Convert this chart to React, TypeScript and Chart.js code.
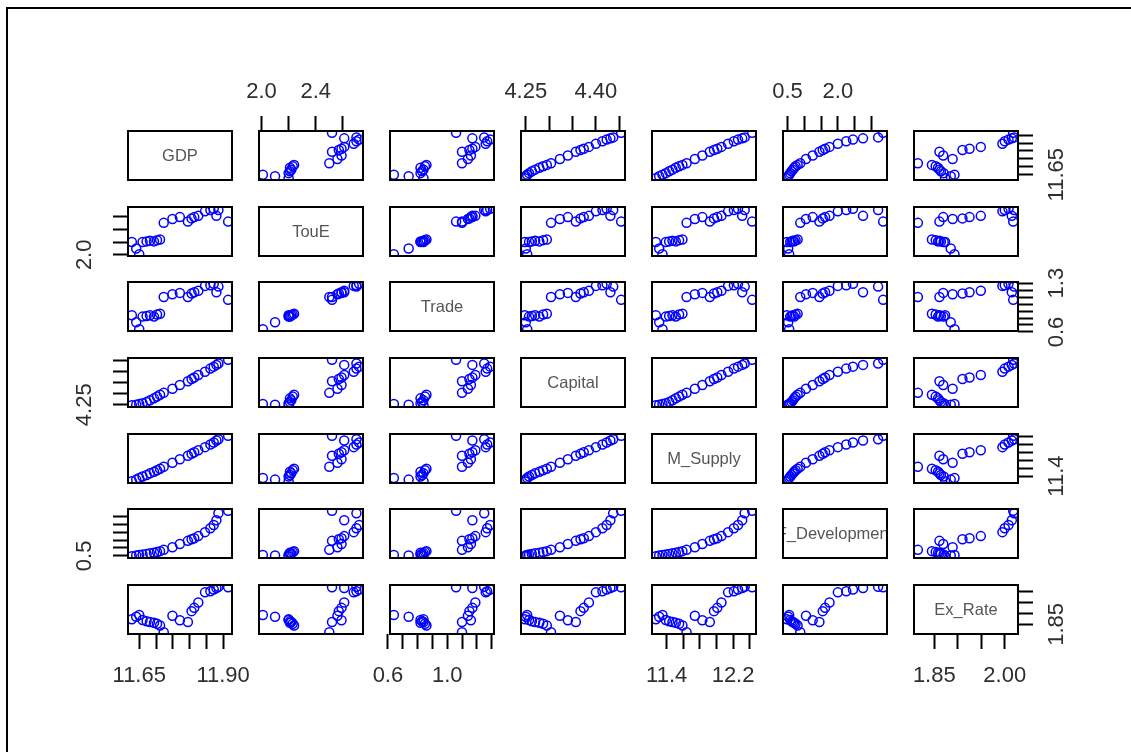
import React, { useEffect, useRef } from "react";
import { Chart, registerables } from "chart.js";

Chart.register(...registerables);

// ---------------- data ----------------
const VAR_NAMES = ["GDP", "TouE", "Trade", "Capital", "M_Supply", "F_Development", "Ex_Rate"];

const GDP = [11.628, 11.641, 11.65, 11.66, 11.672, 11.682, 11.694, 11.703, 11.712, 11.723, 11.749, 11.771, 11.795, 11.806, 11.814, 11.826, 11.846, 11.862, 11.872, 11.88, 11.886, 11.915];
const TOUE = [2.2, 2.1, 2.01, 2.2, 2.21, 2.22, 2.21, 2.23, 2.24, 2.5, 2.56, 2.59, 2.52, 2.57, 2.59, 2.61, 2.68, 2.7, 2.72, 2.61, 2.7, 2.52];
const TRADE = [0.84, 0.74, 0.64, 0.82, 0.83, 0.84, 0.82, 0.85, 0.86, 1.1, 1.14, 1.16, 1.1, 1.15, 1.17, 1.19, 1.26, 1.27, 1.29, 1.17, 1.25, 1.06];
const CAPITAL = [4.248, 4.25, 4.253, 4.257, 4.263, 4.27, 4.279, 4.287, 4.295, 4.304, 4.323, 4.34, 4.357, 4.367, 4.374, 4.385, 4.4, 4.414, 4.423, 4.431, 4.437, 4.454];
const M_SUPPLY = [11.27, 11.31, 11.35, 11.39, 11.43, 11.47, 11.51, 11.55, 11.59, 11.64, 11.74, 11.83, 11.92, 11.97, 12.01, 12.06, 12.14, 12.21, 12.26, 12.31, 12.34, 12.43];
const F_DEV = [0.48, 0.52, 0.55, 0.58, 0.62, 0.66, 0.7, 0.74, 0.8, 0.88, 1.05, 1.25, 1.45, 1.55, 1.62, 1.75, 2.0, 2.25, 2.45, 2.75, 3.2, 3.35];
const EX_RATE = [1.873, 1.885, 1.893, 1.87, 1.864, 1.861, 1.858, 1.853, 1.845, 1.815, 1.889, 1.869, 1.861, 1.91, 1.925, 1.949, 1.995, 2.0, 2.008, 2.015, 2.02, 2.018];

// tick values and the labels printed at them ("" = tick without label)
const GDP_TICKS = [11.65, 11.7, 11.75, 11.8, 11.85, 11.9];
const GDP_LABELS = ["11.65", "", "", "", "", "11.90"];
const TOUE_TICKS = [2.0, 2.2, 2.4, 2.6];
const TOUE_LABELS = ["2.0", "", "2.4", ""];
const TRADE_TICKS = [0.6, 0.7, 0.8, 0.9, 1.0, 1.1, 1.2, 1.3];
const TRADE_LABELS = ["0.6", "", "", "", "1.0", "", "", ""];
const CAPITAL_TICKS = [4.25, 4.3, 4.35, 4.4, 4.45];
const CAPITAL_LABELS = ["4.25", "", "", "4.40", ""];
const M_SUPPLY_TICKS = [11.4, 11.6, 11.8, 12.0, 12.2, 12.4];
const M_SUPPLY_LABELS = ["11.4", "", "", "", "12.2", ""];
const F_DEV_TICKS = [0.5, 1.0, 1.5, 2.0, 2.5, 3.0];
const F_DEV_LABELS = ["0.5", "", "", "2.0", "", ""];
const EX_RATE_TICKS = [1.85, 1.9, 1.95, 2.0];
const EX_RATE_LABELS = ["1.85", "", "", "2.00"];

// labels printed on the vertical (side) axes
const GDP_Y_LABELS = ["11.65", "", "", "", "", ""];
const TOUE_Y_LABELS = ["2.0", "", "", ""];
const TRADE_Y_LABELS = ["0.6", "", "", "", "", "", "", "1.3"];
const CAPITAL_Y_LABELS = ["4.25", "", "", "", ""];
const M_SUPPLY_Y_LABELS = ["11.4", "", "", "", "", ""];
const F_DEV_Y_LABELS = ["0.5", "", "", "", "", ""];
const EX_RATE_Y_LABELS = ["1.85", "", "", ""];

const SERIES = [GDP, TOUE, TRADE, CAPITAL, M_SUPPLY, F_DEV, EX_RATE];
const TICKS = [GDP_TICKS, TOUE_TICKS, TRADE_TICKS, CAPITAL_TICKS, M_SUPPLY_TICKS, F_DEV_TICKS, EX_RATE_TICKS];
const X_LABELS = [GDP_LABELS, TOUE_LABELS, TRADE_LABELS, CAPITAL_LABELS, M_SUPPLY_LABELS, F_DEV_LABELS, EX_RATE_LABELS];
const Y_LABELS = [GDP_Y_LABELS, TOUE_Y_LABELS, TRADE_Y_LABELS, CAPITAL_Y_LABELS, M_SUPPLY_Y_LABELS, F_DEV_Y_LABELS, EX_RATE_Y_LABELS];

// ---------------- layout ----------------
const N = 7;
const PANEL_LEFT0 = 128;
const PANEL_DX = 131;
const PANEL_TOP0 = 131;
const PANEL_DY = 75.67;
const PANEL_W = 104;
const PANEL_H = 49;
const M = 70; // canvas margin around each panel
const FONT = "'Liberation Sans', Arial, Helvetica, sans-serif";
const TICK_FONT_SIZE = 22;
const TEXT_COLOR = "#2e2e2e";

function range(v: number[]) {
  const lo = Math.min(...v);
  const hi = Math.max(...v);
  const r = hi - lo;
  return { min: lo - 0.04 * r, max: hi + 0.04 * r };
}

function makeScale(varIdx: number, axis: "x" | "y", position: string, show: boolean) {
  const rg = range(SERIES[varIdx]);
  const ticks = TICKS[varIdx];
  const labels = X_LABELS[varIdx];
  return {
    type: "linear",
    position,
    display: show,
    min: rg.min,
    max: rg.max,
    bounds: "data",
    afterBuildTicks: (s: any) => {
      s.ticks = ticks.map((v) => ({ value: v }));
    },
    afterFit: (s: any) => {
      if (!show) return;
      if (axis === "x") s.height = M;
      else s.width = M;
    },
    grid: {
      display: true,
      drawOnChartArea: false,
      drawTicks: true,
      tickLength: 15,
      tickWidth: 2,
      tickColor: "#000",
    },
    border: { display: false },
    ticks: {
      display: axis === "x",
      autoSkip: false,
      maxRotation: 0,
      minRotation: 0,
      padding: position === "bottom" ? 14 : 11,
      color: TEXT_COLOR,
      font: { family: FONT, size: TICK_FONT_SIZE },
      callback: (_v: any, idx: number) => labels[idx] ?? "",
    },
  };
}

function Panel({ i, j }: { i: number; j: number }) {
  const ref = useRef<HTMLCanvasElement | null>(null);
  const left = PANEL_LEFT0 + j * PANEL_DX;
  const top = Math.round(PANEL_TOP0 + i * PANEL_DY);

  useEffect(() => {
    const canvas = ref.current;
    if (!canvas) return;
    const xPos = i === 0 && j % 2 === 1 ? "top" : "bottom";
    const xShow = (i === 0 && j % 2 === 1) || (i === N - 1 && j % 2 === 0);
    const yPos = j === N - 1 && i % 2 === 0 ? "right" : "left";
    const yShow = (j === 0 && i % 2 === 1) || (j === N - 1 && i % 2 === 0);

    const xs = SERIES[j];
    const ys = SERIES[i];
    const points = i === j ? [] : xs.map((x, k) => ({ x, y: ys[k] }));

    const padding = {
      top: xShow && xPos === "top" ? 0 : M,
      bottom: xShow && xPos === "bottom" ? 0 : M,
      left: yShow && yPos === "left" ? 0 : M,
      right: yShow && yPos === "right" ? 0 : M,
    };

    const deco = {
      id: "panelDeco",
      afterDraw(chart: any) {
        const ctx = chart.ctx as CanvasRenderingContext2D;
        const a = chart.chartArea;
        ctx.save();
        if (i === j) {
          ctx.save();
          ctx.beginPath();
          ctx.rect(a.left, a.top, a.right - a.left, a.bottom - a.top);
          ctx.clip();
          ctx.fillStyle = "#555";
          ctx.font = `16.5px ${FONT}`;
          ctx.textAlign = "center";
          ctx.textBaseline = "middle";
          ctx.fillText(VAR_NAMES[i], (a.left + a.right) / 2, (a.top + a.bottom) / 2 + 1);
          ctx.restore();
        }
        // rotated labels of the side axes
        if (yShow) {
          const ys2 = chart.scales.y;
          const lbls = Y_LABELS[i];
          const tks = TICKS[i];
          ctx.fillStyle = TEXT_COLOR;
          ctx.font = `${TICK_FONT_SIZE}px ${FONT}`;
          ctx.textAlign = "center";
          ctx.textBaseline = "middle";
          tks.forEach((v, k) => {
            if (!lbls[k]) return;
            const py = ys2.getPixelForValue(v);
            const px = yPos === "left" ? a.left - 43 : a.right + 39;
            ctx.save();
            ctx.translate(px, py);
            ctx.rotate(-Math.PI / 2);
            ctx.fillText(lbls[k], 0, 0);
            ctx.restore();
          });
        }
        // panel box
        ctx.strokeStyle = "#000";
        ctx.lineWidth = 2;
        ctx.strokeRect(a.left, a.top, a.right - a.left, a.bottom - a.top);
        ctx.restore();
      },
    };

    const chart = new Chart(canvas, {
      type: "scatter",
      data: {
        datasets: [
          {
            data: points,
            pointStyle: "circle",
            pointRadius: 4.5,
            pointHoverRadius: 4.5,
            pointBorderWidth: 1.5,
            borderColor: "#0000ff",
            backgroundColor: "rgba(0,0,0,0)",
            clip: 0,
          } as any,
        ],
      },
      options: {
        responsive: false,
        animation: false,
        devicePixelRatio: 1,
        events: [],
        layout: { padding },
        plugins: { legend: { display: false }, tooltip: { enabled: false } },
        scales: {
          x: makeScale(j, "x", xPos, xShow) as any,
          y: makeScale(i, "y", yPos, yShow) as any,
        },
      },
      plugins: [deco],
    });
    return () => chart.destroy();
  }, [i, j]);

  const w = PANEL_W + 2 * M;
  const h = PANEL_H + 2 * M;
  return (
    <canvas
      ref={ref}
      width={w}
      height={h}
      style={{ position: "absolute", left: left - M, top: top - M, width: w, height: h }}
    />
  );
}

export default function App() {
  const cells: any[] = [];
  for (let i = 0; i < N; i++) {
    for (let j = 0; j < N; j++) {
      cells.push(<Panel key={`${i}-${j}`} i={i} j={j} />);
    }
  }
  return (
    <div style={{ position: "fixed", left: 0, top: 0, width: "100vw", height: "100vh", overflow: "hidden", background: "#fff" }}>
      <div
        style={{
          position: "absolute",
          left: 6,
          top: 7,
          width: 3000,
          height: 3000,
          borderLeft: "2px solid #000",
          borderTop: "2px solid #000",
        }}
      />
      {cells}
    </div>
  );
}
